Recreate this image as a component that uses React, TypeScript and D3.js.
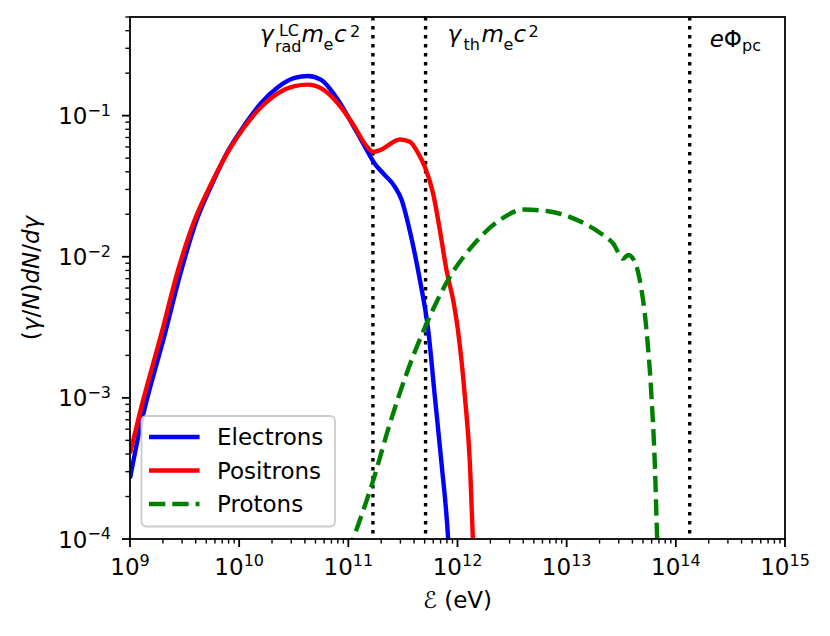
import * as d3 from 'd3';

// energies (eV) and spectra
const electronE = [1.0e9, 1.24e9, 2.09e9, 2.87e9, 4.02e9, 5.64e9, 7.89e9, 1.12e10, 1.59e10, 2.26e10, 3.22e10, 4.27e10, 5.65e10, 8.04e10, 1.14e11, 1.41e11, 1.74e11, 2.09e11, 2.67e11, 3.08e11, 3.66e11, 4.53e11, 5.40e11, 6.21e11, 7.15e11, 8.22e11, 8.5e11];
const electronN = [2.69e-4, 6.18e-4, 2.85e-3, 7.4e-3, 0.0176, 0.0327, 0.056, 0.0857, 0.123, 0.159, 0.185, 0.191, 0.179, 0.129, 0.0815, 0.0608, 0.0458, 0.0389, 0.0313, 0.0252, 0.0152, 6.8e-3, 3.0e-3, 1.01e-3, 3.4e-4, 0.98e-4, 6e-5];

const positronE = [1.0e9, 1.27e9, 1.94e9, 2.75e9, 3.91e9, 5.56e9, 7.89e9, 1.12e10, 1.59e10, 2.26e10, 3.22e10, 4.27e10, 5.65e10, 8.04e10, 1.14e11, 1.41e11, 1.69e11, 1.95e11, 2.97e11, 3.66e11, 4.37e11, 5.02e11, 5.98e11, 6.90e11, 7.94e11, 9.14e11, 1.01e12, 1.17e12, 1.30e12, 1.39e12, 1.42e12];
const positronN = [4.04e-4, 8.6e-4, 2.85e-3, 8.0e-3, 0.0182, 0.033, 0.0553, 0.0834, 0.115, 0.144, 0.162, 0.166, 0.156, 0.122, 0.0834, 0.0635, 0.0553, 0.0569, 0.0678, 0.0652, 0.054, 0.0434, 0.0281, 0.0154, 8.0e-3, 4.9e-3, 3.0e-3, 1.01e-3, 3.4e-4, 0.9e-4, 6e-5];

const protonE = [1.0e11, 1.11e11, 1.69e11, 2.40e11, 3.42e11, 5.21e11, 8.51e11, 1.39e12, 2.44e12, 4.00e12, 6.55e12, 1.15e13, 2.01e13, 2.67e13, 3.29e13, 3.66e13, 4.21e13, 4.68e13, 5.39e13, 5.99e13, 6.42e13, 6.75e13, 6.9e13];
const protonN = [7.9e-5, 1.0e-4, 2.6e-4, 6.56e-4, 1.49e-3, 3.36e-3, 7.19e-3, 0.0121, 0.0182, 0.0216, 0.0211, 0.0187, 0.0148, 0.0124, 9.7e-3, 0.0103, 9.2e-3, 6.8e-3, 3.0e-3, 1.01e-3, 3.4e-4, 0.98e-4, 6e-5];

// gamma_rad^LC m_e c^2, gamma_th m_e c^2, e Phi_pc
const markerE = [1.68e11, 5.1e11, 1.34e14];

const xTickExp = [9, 10, 11, 12, 13, 14, 15];
const yTickExp = [-4, -3, -2, -1];

const LW = 4.4;
const series = [
    { name: 'Electrons', E: electronE, N: electronN, color: '#0000ff', dash: '' },
    { name: 'Positrons', E: positronE, N: positronN, color: '#ff0000', dash: '' },
    { name: 'Protons', E: protonE, N: protonN, color: '#008000', dash: `${3.7 * LW},${1.6 * LW}` },
];

const W = 830, H = 636;
const margin = { top: 17, right: 45, bottom: 97, left: 130 };
const FONT = 'DejaVu Sans';

export default function App() {
    const x = d3.scaleLog().domain([1e9, 1e15]).range([margin.left, W - margin.right]);
    const y = d3.scaleLog().domain([1e-4, 0.5]).range([H - margin.bottom, margin.top]);
    const [x0, x1] = x.range();
    const [y0, y1] = y.range();

    const line = d3.line<[number, number]>()
        .x(d => x(d[0]))
        .y(d => y(d[1]))
        .curve(d3.curveMonotoneX);

    let xMinor: number[] = [];
    for (let e = 9; e < 15; e++) for (let k = 2; k < 10; k++) xMinor.push(k * Math.pow(10, e));
    let yMinor: number[] = [];
    for (let e = -4; e < 0; e++) for (let k = 2; k < 10; k++) {
        let v = k * Math.pow(10, e);
        if (v <= 0.5) yMinor.push(v);
    }

    const expText = (e: number) => (e < 0 ? '\u2212' + Math.abs(e) : String(e));
    const legendRows = [437, 470.5, 504];
    const l1 = x(markerE[0]) - 113;
    const l2 = x(markerE[1]) + 22;
    const l3 = x(markerE[2]) + 20;

    return (
        <svg width={W} height={H} style={{ position: 'absolute', left: 0, top: 0, background: '#fff' }}
            fontFamily={FONT}>
            <defs>
                <clipPath id="plot-clip">
                    <rect x={x0} y={y1} width={x1 - x0} height={y0 - y1} />
                </clipPath>
            </defs>

            <g clipPath="url(#plot-clip)">
                {markerE.map((e, i) => (
                    <line key={i} x1={x(e)} x2={x(e)} y1={y1} y2={y0}
                        stroke="#000" strokeWidth={3.4} strokeDasharray="3.4,5.6" />
                ))}
                {series.map(s => (
                    <path key={s.name}
                        d={line(s.E.map((e, i) => [e, s.N[i]] as [number, number])) || ''}
                        fill="none" stroke={s.color} strokeWidth={LW}
                        strokeDasharray={s.dash || undefined} />
                ))}
            </g>

            {/* frame */}
            <rect x={x0} y={y1} width={x1 - x0} height={y0 - y1} fill="none" stroke="#000" strokeWidth={1.8} />

            {/* x axis ticks */}
            {xMinor.map((v, i) => (
                <line key={'xm' + i} x1={x(v)} x2={x(v)} y1={y0} y2={y0 + 4.6} stroke="#000" strokeWidth={1.4} />
            ))}
            {xTickExp.map(e => (
                <g key={'x' + e}>
                    <line x1={x(Math.pow(10, e))} x2={x(Math.pow(10, e))} y1={y0} y2={y0 + 8} stroke="#000" strokeWidth={1.8} />
                    <text x={x(Math.pow(10, e))} y={574.5} textAnchor="middle" fontSize={23}>
                        10<tspan fontSize={16} dy={-8.5}>{expText(e)}</tspan>
                    </text>
                </g>
            ))}

            {/* y axis ticks */}
            {yMinor.map((v, i) => (
                <line key={'ym' + i} x1={x0} x2={x0 - 4.6} y1={y(v)} y2={y(v)} stroke="#000" strokeWidth={1.4} />
            ))}
            {yTickExp.map(e => (
                <g key={'y' + e}>
                    <line x1={x0} x2={x0 - 8} y1={y(Math.pow(10, e))} y2={y(Math.pow(10, e))} stroke="#000" strokeWidth={1.8} />
                    <text x={111} y={y(Math.pow(10, e)) + 8.5} textAnchor="end" fontSize={23}>
                        10<tspan fontSize={16} dy={-8.5}>{expText(e)}</tspan>
                    </text>
                </g>
            ))}

            {/* axis labels */}
            <text x={(x0 + x1) / 2} y={608} textAnchor="middle" fontSize={23}>ℰ (eV)</text>
            <text transform={`translate(39,${(y0 + y1) / 2}) rotate(-90)`} textAnchor="middle" fontSize={23}>
                (<tspan fontStyle="italic">γ</tspan>/<tspan fontStyle="italic">N</tspan>)<tspan fontStyle="italic">dN</tspan>/<tspan fontStyle="italic">dγ</tspan>
            </text>

            {/* marker labels */}
            <text y={42} fontSize={23}>
                <tspan x={l1} fontStyle="italic">γ</tspan>
                <tspan x={l1 + 19} y={36} fontSize={16}>LC</tspan>
                <tspan x={l1 + 15} y={52} fontSize={16}>rad</tspan>
                <tspan x={l1 + 41.5} y={42} fontStyle="italic">m</tspan>
                <tspan x={l1 + 63.5} y={50} fontSize={16}>e</tspan>
                <tspan x={l1 + 74} y={42} fontStyle="italic">c</tspan>
                <tspan x={l1 + 90} y={36.5} fontSize={16}>2</tspan>
            </text>
            <text y={42} fontSize={23}>
                <tspan x={l2} fontStyle="italic">γ</tspan>
                <tspan x={l2 + 16} y={50} fontSize={16}>th</tspan>
                <tspan x={l2 + 34} y={42} fontStyle="italic">m</tspan>
                <tspan x={l2 + 56} y={50} fontSize={16}>e</tspan>
                <tspan x={l2 + 66} y={42} fontStyle="italic">c</tspan>
                <tspan x={l2 + 81} y={36.5} fontSize={16}>2</tspan>
            </text>
            <text y={46.5} fontSize={23}>
                <tspan x={l3} fontStyle="italic">e</tspan>
                <tspan>Φ</tspan>
                <tspan y={51} fontSize={16}>pc</tspan>
            </text>

            {/* legend */}
            <rect x={141.5} y={416} width={193.5} height={110.5} rx={5} ry={5}
                fill="#fff" fillOpacity={0.8} stroke="#cccccc" strokeWidth={1.8} />
            {series.map((s, i) => (
                <g key={'lg' + s.name}>
                    <line x1={s.dash ? 149 : 151.2} x2={s.dash ? 199.5 : 197.4} y1={legendRows[i]} y2={legendRows[i]}
                        stroke={s.color} strokeWidth={LW} strokeLinecap={s.dash ? 'butt' : 'square'}
                        strokeDasharray={s.dash || undefined} />
                    <text x={217} y={legendRows[i]} dy="0.36em" fontSize={23}>{s.name}</text>
                </g>
            ))}
        </svg>
    );
}
